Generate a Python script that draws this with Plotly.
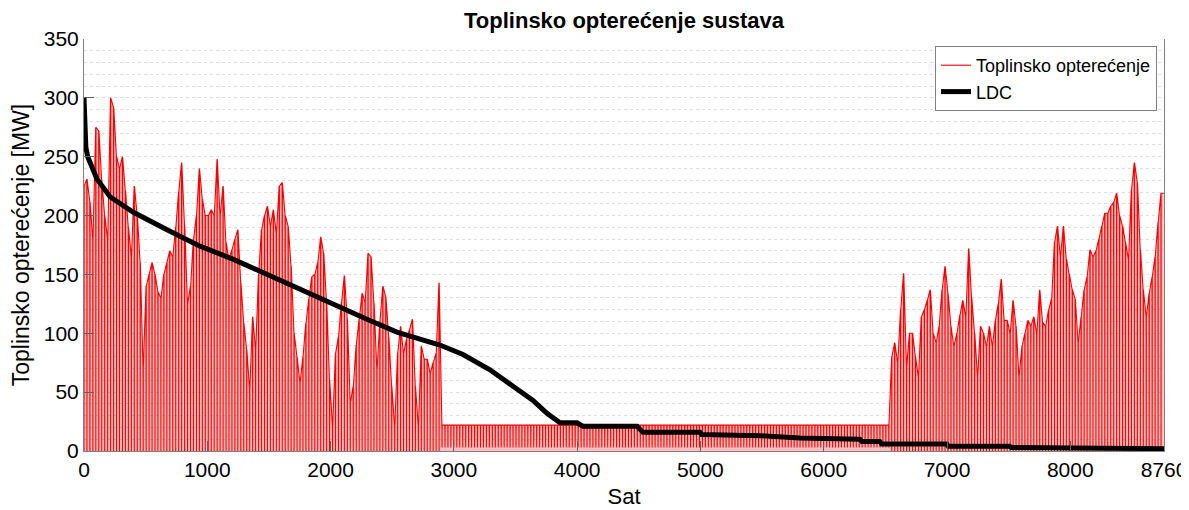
import plotly.graph_objects as go

# ---- Data ----
# Daily peak heat load [MW], heating season 1 (days 0..120)
peak_heat1 = [225, 231, 212, 180, 275, 272, 230, 200, 180, 300,
              292, 250, 240, 250, 221, 190, 165, 225, 200, 160,
              70, 140, 150, 160, 150, 135, 130, 150, 160, 170,
              165, 190, 220, 245, 192, 125, 140, 180, 200, 240,
              214, 200, 200, 205, 200, 248, 200, 225, 177, 163,
              171, 180, 188, 143, 109, 86, 52, 114, 86, 150,
              188, 200, 208, 191, 205, 185, 225, 228, 200, 191,
              157, 100, 80, 58, 80, 109, 129, 148, 150, 160,
              182, 168, 126, 60, 21, 83, 97, 126, 149, 112,
              41, 55, 90, 112, 134, 126, 168, 165, 126, 69,
              110, 140, 131, 97, 55, 21, 83, 106, 83, 95,
              103, 112, 55, 21, 89, 78, 78, 66, 75, 83,
              143]
# Summer (days 121..272): constant band between ~3 and ~22 MW
summer_days = 152
summer_peak = [22] * summer_days
summer_low = [3] * summer_days
# Daily peak heat load [MW], heating season 2 (days 273..364)
peak_heat2 = [80, 92, 75, 120, 151, 72, 100, 100, 80, 63,
              114, 120, 128, 137, 100, 92, 106, 137, 157, 134,
              106, 89, 100, 115, 128, 114, 172, 130, 100, 63,
              106, 100, 89, 106, 89, 111, 125, 146, 111, 111,
              100, 128, 106, 63, 89, 100, 111, 106, 114, 100,
              137, 109, 106, 120, 129, 177, 191, 165, 191, 163,
              150, 137, 129, 92, 114, 137, 148, 171, 165, 170,
              180, 191, 202, 202, 208, 211, 219, 200, 191, 177,
              163, 222, 245, 228, 171, 137, 114, 134, 148, 165,
              194, 219]
heat_low1 = [0] * len(peak_heat1)
heat_low2 = [0] * len(peak_heat2)

daily_peak = peak_heat1 + summer_peak + peak_heat2
daily_low = heat_low1 + summer_low + heat_low2

# Load duration curve (sorted load)
ldc_hours = [0, 3, 8, 15, 30, 50, 105, 211, 397, 673, 941, 1208, 1484, 1752,
             2019, 2295, 2538, 2887, 3074, 3293, 3480, 3642, 3755, 3861, 3998,
             4047, 4485, 4534, 4996, 5010, 5483, 5807, 6293, 6310, 6455, 6470,
             6998, 7010, 7509, 7520, 8760]
ldc_values = [300, 285, 268, 258, 250, 245, 231, 216, 203, 188, 174, 163, 150, 137,
              124, 112, 101, 90, 82, 69, 55, 43, 32, 24, 24,
              21, 21, 16, 16, 14, 13, 11, 10, 8, 8, 6,
              6, 4, 4, 3, 2]

x_ticks = [0, 1000, 2000, 3000, 4000, 5000, 6000, 7000, 8000, 8760]
y_ticks = [0, 50, 100, 150, 200, 250, 300, 350]

# ---- Build the hourly trace: each day drops once to its low, rises to its peak,
#      and the top runs on to the next day's peak ----
hx, hy = [], []
n = len(daily_peak)
for d in range(n):
    h0 = 24 * d
    nxt = daily_peak[d + 1] if d + 1 < n else daily_peak[d]
    hx += [h0, h0 + 1, h0 + 23]
    hy += [daily_low[d], daily_peak[d], nxt]

FONT = "Arial, Liberation Sans, Helvetica, sans-serif"

# The page body has an 8 px margin, so the figure is 8 px smaller and its
# margins 8 px tighter on the left/top to land the plot box where the reference has it.
W, H = 1181, 502

fig = go.Figure()
fig.add_trace(go.Scatter(
    x=hx, y=hy, mode="lines", fill="tozeroy",
    fillcolor="rgba(255,0,0,0.25)", line=dict(width=0, color="rgba(255,0,0,0)"),
    hoverinfo="skip", showlegend=False))
fig.add_trace(go.Scatter(
    x=hx, y=hy, mode="lines", name="Toplinsko opterećenje",
    line=dict(color="#ff0000", width=1.1)))
fig.add_trace(go.Scatter(
    x=ldc_hours, y=ldc_values, mode="lines", name="LDC",
    line=dict(color="#000000", width=5)))

fig.update_layout(
    width=W, height=H,
    margin=dict(l=76, r=25, t=31, b=59, autoexpand=False),
    paper_bgcolor="white", plot_bgcolor="white",
    font=dict(family=FONT, color="#000000"),
    title=dict(text="<b>Toplinsko opterećenje sustava</b>", x=(76 + 540) / W,
               xanchor="center", y=1 - 12 / H, yanchor="middle", yref="container",
               font=dict(size=22, family=FONT, color="#000")),
    legend=dict(x=0.9935, y=0.983, xanchor="right", yanchor="top",
                bgcolor="white", bordercolor="#808080", borderwidth=1,
                font=dict(size=18, family=FONT), tracegroupgap=0,
                itemwidth=30),
    showlegend=True,
)
fig.update_xaxes(
    range=[0, 8760], tickvals=x_ticks, ticktext=[str(v) for v in x_ticks],
    ticks="inside", ticklen=10, tickcolor="#606060",
    showline=True, linecolor="#808080", linewidth=1, mirror=False,
    showgrid=False, zeroline=False, automargin=False,
    tickfont=dict(size=21, family=FONT, color="#000"),
    title=dict(text="Sat", font=dict(size=22, family=FONT, color="#000"), standoff=8),
)
fig.update_yaxes(
    range=[0, 350], tickvals=y_ticks,
    ticks="inside", ticklen=10, tickcolor="#606060",
    showline=True, linecolor="#808080", linewidth=1, mirror=True,
    showgrid=True, gridcolor="#dedede", griddash="dot", gridwidth=1,
    minor=dict(dtick=10, showgrid=True, gridcolor="#dedede", griddash="dot", gridwidth=1),
    zeroline=False, automargin=False,
    tickfont=dict(size=21, family=FONT, color="#000"),
    title=dict(text="Toplinsko opterećenje [MW]", font=dict(size=23, family=FONT, color="#000"),
               standoff=10),
)

fig.write_html("out.html")
